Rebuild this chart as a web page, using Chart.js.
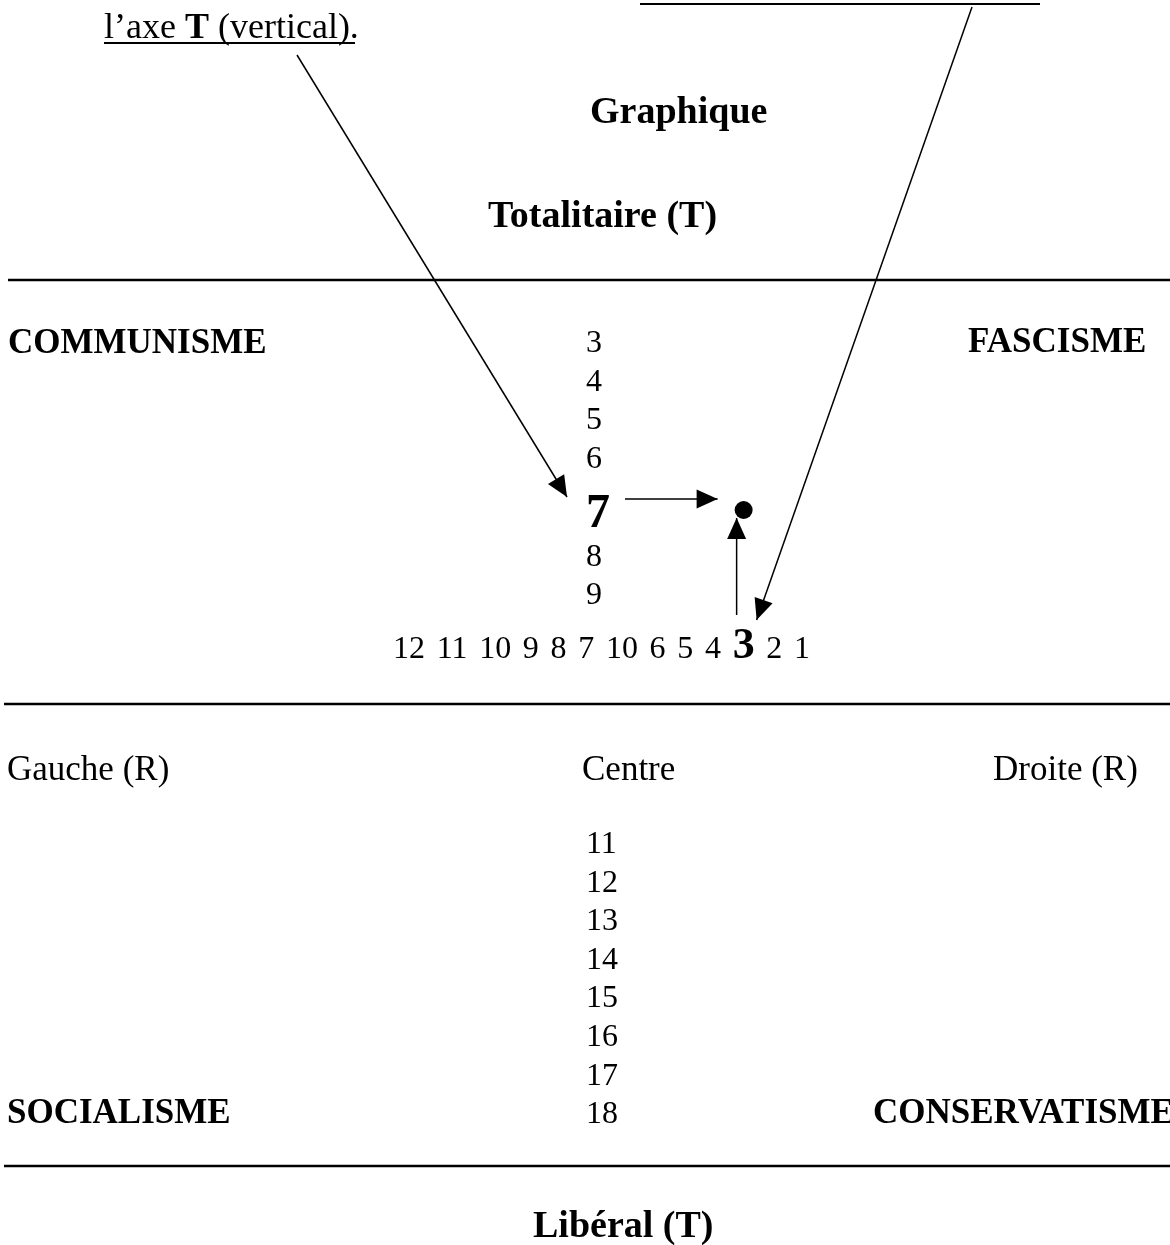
<!DOCTYPE html>
<html>
<head>
<meta charset="utf-8">
<script src="https://cdn.jsdelivr.net/npm/chart.js@4.4.0/dist/chart.umd.min.js"></script>
<style>
  html, body { margin: 0; padding: 0; background: #fff; }
  canvas { display: block; }
</style>
</head>
<body>
<canvas id="graphique" width="1170" height="1245"></canvas>
<script>
// valeurs
var axeR = ['12', '11', '10', '9', '8', '7', '10', '6', '5', '4', '3', '2', '1'];
var axeTHaut = ['3', '4', '5', '6', '7', '8', '9'];
var axeTBas = ['11', '12', '13', '14', '15', '16', '17', '18'];
var scoreR = '3';
var scoreT = '7';
var titres = ['Graphique', 'Totalitaire (T)', 'Libéral (T)'];
var ideologies = ['COMMUNISME', 'FASCISME', 'SOCIALISME', 'CONSERVATISME'];
var reperesR = ['Gauche (R)', 'Centre', 'Droite (R)'];
var consigne = ['l\u2019axe ', 'T', ' (vertical).'];

// mise en page (pixels de la page)
var W = 1170, H = 1245;
var SERIF = '"Liberation Serif", "Times New Roman", serif';
var FONT_NUM = '32px ' + SERIF;
var FONT_R_GRAS = 'bold 44px ' + SERIF;
var FONT_T_GRAS = 'bold 48px ' + SERIF;
var FONT_TITRE = 'bold 38px ' + SERIF;
var FONT_IDEO = 'bold 35px ' + SERIF;
var FONT_TEXTE = '35px ' + SERIF;
var FONT_CONSIGNE = '36px ' + SERIF;

var colX = 586;
var hautY0 = 352, pasHaut = 38.5, extraGras = 21;
var basY0 = 853, pasBas = 38.6;
var rangY = 658, rangX0 = 393, rangX1 = 810;
var regles = [[8, 280], [4, 704], [4, 1166]];
var posTitres = [[590, 123], [488, 227], [533, 1237]];
var posIdeo = [[8, 353], [968, 352], [7, 1123], [873, 1123]];
var posReperes = [[7, 780], [582, 780], [993, 780]];

var mesure = document.createElement('canvas').getContext('2d');
function largeur(txt, font) {
    mesure.font = font;
    return mesure.measureText(txt).width;
}

// rangée horizontale R
var idxR = axeR.indexOf(scoreR);
var rang = [];
var total = 0;
for (var i = 0; i < axeR.length; i++) {
    total += largeur(axeR[i], i === idxR ? FONT_R_GRAS : FONT_NUM);
}
var ecart = (rangX1 - rangX0 - total) / (axeR.length - 1);
var xc = rangX0;
for (var i = 0; i < axeR.length; i++) {
    var f = i === idxR ? FONT_R_GRAS : FONT_NUM;
    var w = largeur(axeR[i], f);
    rang.push({ txt: axeR[i], x: xc, w: w, font: f });
    xc += w + ecart;
}

// colonne T
var idxT = axeTHaut.indexOf(scoreT);
var colonne = [];
for (var i = 0; i < axeTHaut.length; i++) {
    colonne.push({
        txt: axeTHaut[i],
        y: hautY0 + i * pasHaut + (i >= idxT ? extraGras : 0),
        font: i === idxT ? FONT_T_GRAS : FONT_NUM
    });
}
for (var i = 0; i < axeTBas.length; i++) {
    colonne.push({ txt: axeTBas[i], y: basY0 + i * pasBas, font: FONT_NUM });
}

// le point (R, T)
var cibleR = rang[idxR];
var cibleT = colonne[idxT];
var w7 = largeur(cibleT.txt, cibleT.font);
var point = { x: cibleR.x + cibleR.w / 2, y: cibleT.y - 17 };

var fleches = [
    [{ x: 297, y: 55 }, { x: colX - 19, y: cibleT.y - 30 }],
    [{ x: 972, y: 7 }, { x: point.x + 13, y: rangY - 38 }],
    [{ x: colX + w7 + 15, y: cibleT.y - 28 }, { x: point.x - 26, y: cibleT.y - 28 }],
    [{ x: point.x - 7, y: rangY - 43 }, { x: point.x - 7, y: point.y + 8 }]
];

var datasets = [{
    data: [point],
    pointRadius: 9,
    pointBackgroundColor: '#000',
    pointBorderWidth: 0
}];
fleches.forEach(function (f) {
    datasets.push({
        data: f,
        showLine: true,
        borderColor: '#000',
        borderWidth: 1.5,
        pointRadius: 0,
        fleche: true
    });
});

var decor = {
    id: 'decor',
    beforeDatasetsDraw: function (chart) {
        var ctx = chart.ctx, xs = chart.scales.x, ys = chart.scales.y;
        ctx.save();
        ctx.strokeStyle = '#000';
        ctx.lineWidth = 2.5;
        regles.forEach(function (r) {
            ctx.beginPath();
            ctx.moveTo(xs.getPixelForValue(r[0]), ys.getPixelForValue(r[1]));
            ctx.lineTo(xs.getPixelForValue(W), ys.getPixelForValue(r[1]));
            ctx.stroke();
        });
        ctx.lineWidth = 2;
        ctx.beginPath();
        ctx.moveTo(xs.getPixelForValue(640), ys.getPixelForValue(4));
        ctx.lineTo(xs.getPixelForValue(1040), ys.getPixelForValue(4));
        ctx.moveTo(xs.getPixelForValue(104), ys.getPixelForValue(43));
        ctx.lineTo(xs.getPixelForValue(355), ys.getPixelForValue(43));
        ctx.stroke();
        ctx.restore();
    },
    afterDatasetsDraw: function (chart) {
        var ctx = chart.ctx, xs = chart.scales.x, ys = chart.scales.y;
        ctx.save();
        ctx.fillStyle = '#000';
        ctx.textBaseline = 'alphabetic';
        ctx.textAlign = 'left';

        // pointes de fleches
        chart.data.datasets.forEach(function (ds, k) {
            if (!ds.fleche) return;
            var pts = chart.getDatasetMeta(k).data;
            var a = pts[0], b = pts[1];
            var ang = Math.atan2(b.y - a.y, b.x - a.x);
            ctx.save();
            ctx.translate(b.x, b.y);
            ctx.rotate(ang);
            ctx.beginPath();
            ctx.moveTo(0, 0);
            ctx.lineTo(-21, -9.5);
            ctx.lineTo(-21, 9.5);
            ctx.closePath();
            ctx.fill();
            ctx.restore();
        });

        function ecrire(txt, font, x, y) {
            ctx.font = font;
            ctx.fillText(txt, xs.getPixelForValue(x), ys.getPixelForValue(y));
        }

        // consigne
        var x = 104;
        ecrire(consigne[0], FONT_CONSIGNE, x, 38);
        x += largeur(consigne[0], FONT_CONSIGNE);
        ecrire(consigne[1], 'bold 36px ' + SERIF, x, 38);
        x += largeur(consigne[1], 'bold 36px ' + SERIF);
        ecrire(consigne[2], FONT_CONSIGNE, x, 38);

        titres.forEach(function (t, i) { ecrire(t, FONT_TITRE, posTitres[i][0], posTitres[i][1]); });
        ideologies.forEach(function (t, i) { ecrire(t, FONT_IDEO, posIdeo[i][0], posIdeo[i][1]); });
        reperesR.forEach(function (t, i) { ecrire(t, FONT_TEXTE, posReperes[i][0], posReperes[i][1]); });

        colonne.forEach(function (c) { ecrire(c.txt, c.font, colX, c.y); });
        rang.forEach(function (r) { ecrire(r.txt, r.font, r.x, rangY); });
        ctx.restore();
    }
};

var ctx = document.getElementById('graphique').getContext('2d');
var chart = new Chart(ctx, {
    type: 'scatter',
    data: { datasets: datasets },
    options: {
        responsive: false,
        animation: false,
        devicePixelRatio: 1,
        events: [],
        layout: { padding: 0, autoPadding: false },
        plugins: { legend: { display: false }, tooltip: { enabled: false } },
        scales: {
            x: { type: 'linear', min: 0, max: W, display: false },
            y: { type: 'linear', min: 0, max: H, reverse: true, display: false }
        }
    },
    plugins: [decor]
});
</script>
</body>
</html>
